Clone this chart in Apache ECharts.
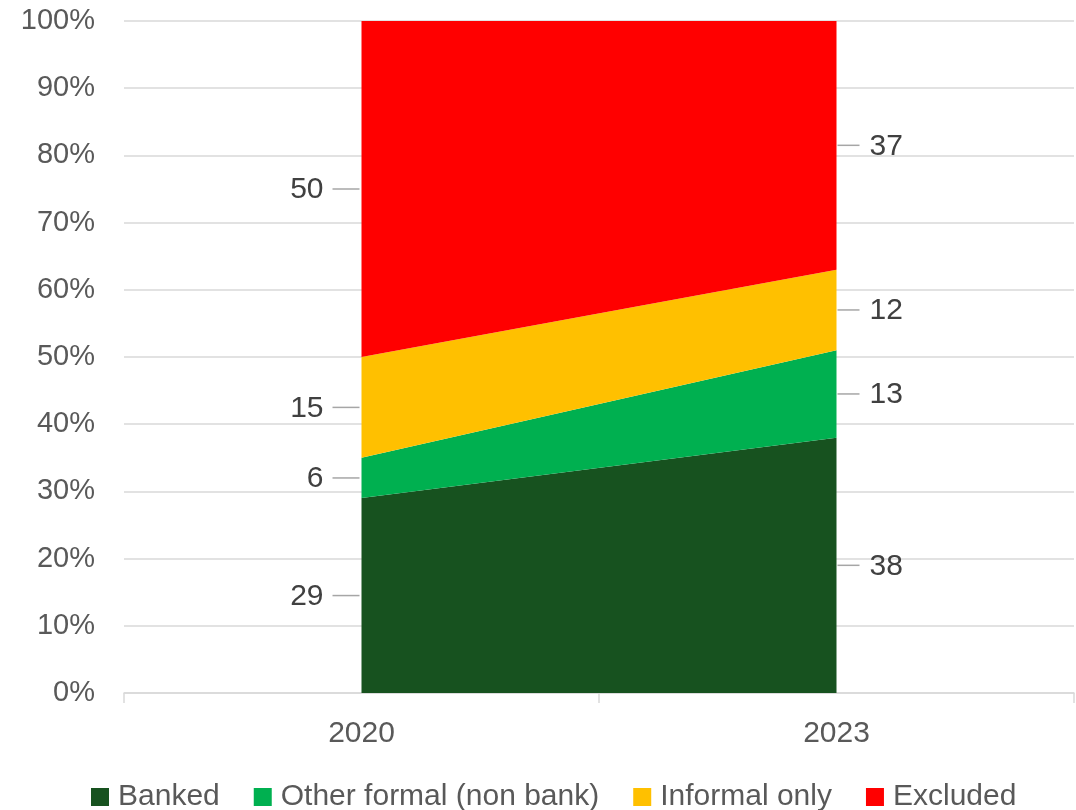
<!DOCTYPE html>
<html><head><meta charset="utf-8">
<script src="https://cdn.jsdelivr.net/npm/echarts@6/dist/echarts.min.js"></script>
<style>html,body{margin:0;padding:0;background:#fff}#c{width:1076px;height:810px}</style>
</head><body><div id="c"></div>
<script>
const years = ['2020', '2023'];
const seriesNames = ['Banked', 'Other formal (non bank)', 'Informal only', 'Excluded'];
const banked = [29, 38];
const otherFormal = [6, 13];
const informalOnly = [15, 12];
const excluded = [50, 37];
const colors = ['#17521f', '#00b050', '#ffc000', '#ff0000'];

const values = [banked, otherFormal, informalOnly, excluded];
const FONT = '"Liberation Sans", Arial, sans-serif';

// label points: [categoryIndex, seriesIndex, midValue, value]
const labelData = [];
years.forEach((y, i) => {
  let cum = 0;
  values.forEach((arr, s) => {
    labelData.push([i, s, cum + arr[i] / 2, arr[i]]);
    cum += arr[i];
  });
});

const chart = echarts.init(document.getElementById('c'), null, { renderer: 'canvas' });

const areaSeries = seriesNames.map((name, s) => ({
  name: name,
  type: 'line',
  stack: 'total',
  data: values[s],
  symbol: 'none',
  lineStyle: { width: 0 },
  areaStyle: { color: colors[s], opacity: 1 },
  itemStyle: { color: colors[s] },
  emphasis: { disabled: true },
  z: 2
}));

chart.setOption({
  animation: false,
  backgroundColor: '#ffffff',
  textStyle: { fontFamily: FONT },
  grid: { left: 124, right: 2, top: 21, bottom: 117, containLabel: false },
  legend: {
    data: seriesNames,
    bottom: -7,
    left: 86,
    icon: 'rect',
    itemWidth: 18,
    itemHeight: 18,
    itemGap: 34,
    textStyle: { fontSize: 30, color: '#595959', fontFamily: FONT, padding: [0, 0, 0, 4] }
  },
  xAxis: {
    type: 'category',
    data: years,
    boundaryGap: true,
    axisLine: { show: true, lineStyle: { color: '#d9d9d9', width: 1.5 } },
    axisTick: { show: true, length: 10, lineStyle: { color: '#d9d9d9', width: 1.5 } },
    axisLabel: { fontSize: 30, color: '#595959', margin: 26, fontFamily: FONT },
    splitLine: { show: false }
  },
  yAxis: {
    type: 'value',
    min: 0,
    max: 100,
    interval: 10,
    axisLine: { show: false },
    axisTick: { show: false },
    axisLabel: { formatter: '{value}%', fontSize: 29, color: '#595959', margin: 29, fontFamily: FONT },
    splitLine: { show: true, lineStyle: { color: '#d9d9d9', width: 1.5 } }
  },
  series: areaSeries.concat([{
    type: 'custom',
    name: 'labels',
    data: labelData,
    encode: { x: 0, y: 2 },
    z: 10,
    silent: true,
    clip: false,
    renderItem: function (params, api) {
      const i = api.value(0);
      const mid = api.value(2);
      const val = api.value(3);
      const pt = api.coord([i, mid]);
      const left = i === 0;
      const x0 = left ? pt[0] - 2 : pt[0] + 1;
      const x1 = left ? pt[0] - 29 : pt[0] + 23;
      const tx = left ? pt[0] - 38 : pt[0] + 33;
      return {
        type: 'group',
        children: [
          { type: 'line', shape: { x1: x0, y1: pt[1], x2: x1, y2: pt[1] },
            style: { stroke: '#a6a6a6', lineWidth: 1.5 } },
          { type: 'text', x: tx, y: pt[1] + 1,
            style: { text: String(val), fill: '#404040', font: '30px ' + FONT,
              align: left ? 'right' : 'left', verticalAlign: 'middle' } }
        ]
      };
    }
  }])
});
</script>
</body></html>
